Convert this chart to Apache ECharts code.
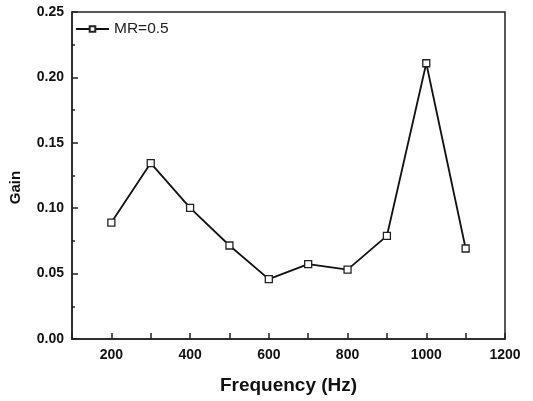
<!DOCTYPE html>
<html><head><meta charset="utf-8">
<script src="https://cdn.jsdelivr.net/npm/echarts@6/dist/echarts.min.js"></script>
<style>html,body{margin:0;padding:0;background:#fff}#c{width:533px;height:401px}</style>
</head><body><div id="c"></div>
<script>
const frequency = [200, 300, 400, 500, 600, 700, 800, 900, 1000, 1100];
const gain = [0.089, 0.1345, 0.1002, 0.0715, 0.0458, 0.0573, 0.053, 0.0788, 0.2108, 0.0692];
const seriesName = 'MR=0.5';
const xTickLabels = ['200','400','600','800','1000','1200'];

const F = 'Liberation Sans, Arial, sans-serif';
const axisColor = '#222';
const chart = echarts.init(document.getElementById('c'));
chart.setOption({
  backgroundColor: '#fff',
  animation: false,
  grid: {left: 70, right: 28, top: 12, bottom: 62, show: true, borderColor: axisColor, borderWidth: 1.5, backgroundColor: 'transparent'},
  legend: {
    left: 75, top: 21, padding: 0, itemWidth: 33, itemHeight: 7,
    textStyle: {fontFamily: F, fontSize: 15.5, color: '#222'},
    data: [seriesName]
  },
  xAxis: [{
    type: 'value', min: 100, max: 1200, interval: 100,
    axisLine: {show: true, lineStyle: {color: axisColor, width: 1.5}},
    axisTick: {show: true, inside: true, length: 6, lineStyle: {color: axisColor, width: 1.5},
      interval: (i, v) => xTickLabels.includes(String(v))},
    splitLine: {show: false},
    axisLabel: {margin: 9, fontFamily: F, fontSize: 14, fontWeight: 'bold', color: '#111',
      formatter: v => xTickLabels.includes(String(v)) ? String(v) : ''},
    name: 'Frequency (Hz)', nameLocation: 'middle', nameGap: 37,
    nameTextStyle: {fontFamily: F, fontSize: 19, fontWeight: 'bold', color: '#111'}
  }, {
    type: 'value', min: 100, max: 1200, interval: 100, position: 'bottom',
    axisLine: {show: false},
    axisTick: {show: true, inside: true, length: 3, lineStyle: {color: axisColor, width: 1.5},
      interval: (i, v) => !xTickLabels.includes(String(v)) && v !== 100},
    splitLine: {show: false},
    axisLabel: {show: false}
  }],
  yAxis: {
    type: 'value', min: 0, max: 0.25, interval: 0.05,
    axisLine: {show: true, lineStyle: {color: axisColor, width: 1.5}},
    axisTick: {show: true, inside: true, length: 6, lineStyle: {color: axisColor, width: 1.5}},
    minorTick: {show: true, splitNumber: 2, length: 3, lineStyle: {color: axisColor, width: 1.5}},
    splitLine: {show: false},
    axisLabel: {margin: 8, fontFamily: F, fontSize: 14, fontWeight: 'bold', color: '#111',
      formatter: v => v.toFixed(2)},
    name: 'Gain', nameLocation: 'middle', nameGap: 49,
    nameTextStyle: {fontFamily: F, fontSize: 15, fontWeight: 'bold', color: '#111', padding: [0, 24, 0, 0]}
  },
  series: [{
    name: seriesName, type: 'line',
    data: frequency.map((f, i) => [f, gain[i]]),
    symbol: 'rect', symbolSize: 7,
    itemStyle: {color: '#fff', borderColor: '#222', borderWidth: 1.3},
    lineStyle: {color: '#111', width: 1.8},
    z: 3
  }]
});
</script></body></html>
